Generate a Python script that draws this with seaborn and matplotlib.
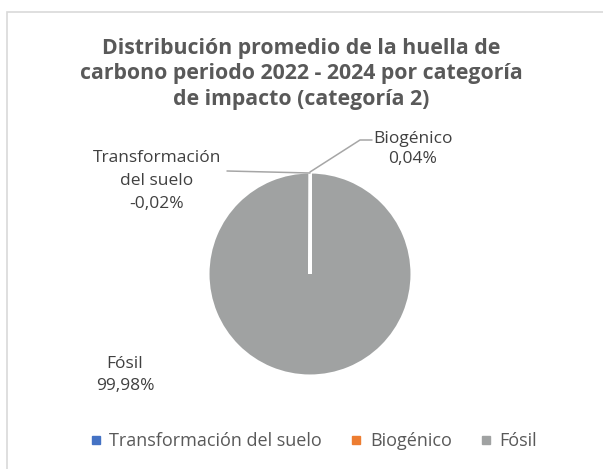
import matplotlib
matplotlib.use("Agg")
import matplotlib.pyplot as plt
from matplotlib.patches import Rectangle
from matplotlib.lines import Line2D
import seaborn as sns

# Average carbon-footprint share by impact category (2022-2024), in %
categories = ["Transformación del suelo", "Biogénico", "Fósil"]
values = [-0.02, 0.04, 99.98]
label_names = ["Transformación\ndel suelo", "Biogénico", "Fósil"]

sns.set_theme(style="white")
plt.rcParams["font.family"] = ["Open Sans", "DejaVu Sans"]

colors = ["#4472C4", "#ED7D31", "#A0A2A2"]
title_color = "#595959"
label_color = "#404040"

W, H = 603, 469
fig = plt.figure(figsize=(W / 100, H / 100), dpi=100)
fig.patch.set_facecolor("white")

def fx(px):
    return px / W

def fy(py):
    return 1 - py / H

# chart area frame
fig.patches.append(Rectangle((fx(7), fy(470)), fx(620) - fx(7), fy(12) - fy(470),
                             transform=fig.transFigure, fill=False,
                             edgecolor="#D9D9D9", linewidth=1.2, zorder=0))

fig.text(0.5, fy(74), "Distribución promedio de la huella de\ncarbono periodo 2022 - 2024 por categoría\nde impacto (categoría 2)",
         ha="center", va="center", fontsize=15.3, fontweight="bold",
         color=title_color, linespacing=1.27)

# pie
cx, cy, r = 310, 274, 102
ax = fig.add_axes([fx(cx - r), fy(cy + r), fx(2 * r), (2 * r) / H])
sizes = [abs(v) for v in values]
ax.pie(sizes, colors=colors, startangle=90, counterclock=False,
       wedgeprops=dict(edgecolor="white", linewidth=2.2))
ax.set_xlim(-1, 1)
ax.set_ylim(-1, 1)
ax.set_aspect("equal")
ax.axis("off")

def fmt(v):
    return f"{v:.2f}%".replace(".", ",")

label_kw = dict(ha="center", va="center", fontsize=12.5, color=label_color)
fig.text(fx(157), fy(181), f"{label_names[0]}\n{fmt(values[0])}", linespacing=1.6, **label_kw)
fig.text(fx(413), fy(149), f"{label_names[1]}\n{fmt(values[1])}", linespacing=1.4, **label_kw)
fig.text(fx(125), fy(375), f"{label_names[2]}\n{fmt(values[2])}", linespacing=1.5, **label_kw)

# leader lines
lead = dict(transform=fig.transFigure, color="#A6A6A6", linewidth=1.1)
fig.lines.append(Line2D([fx(227), fx(310)], [fy(171), fy(173)], **lead))
fig.lines.append(Line2D([fx(310), fx(360), fx(372)], [fy(172), fy(140), fy(140)], **lead))

handles = [Line2D([0], [0], marker="s", linestyle="", markersize=6,
                  markerfacecolor=c, markeredgecolor=c) for c in colors]
fig.legend(handles, categories, loc="center", bbox_to_anchor=(fx(311), fy(441)),
           ncol=3, frameon=False, fontsize=13, handletextpad=0.15, handlelength=1.2,
           columnspacing=1.3, labelcolor=title_color)

fig.savefig("out.png", dpi=100, facecolor="white")
